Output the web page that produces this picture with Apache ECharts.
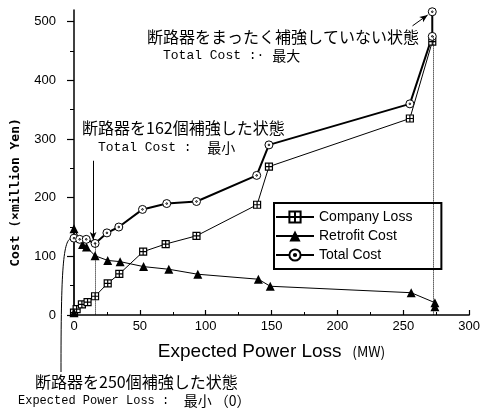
<!DOCTYPE html>
<html><head><meta charset="utf-8">
<script src="https://cdn.jsdelivr.net/npm/echarts@6/dist/echarts.min.js"></script>
<style>html,body{margin:0;padding:0;background:#fff}#c{width:483px;height:412px}</style>
</head><body><div id="c"></div>
<script>
// ---- data ----
const companyX = [0, 2, 6, 10.3, 16, 25.6, 34.4, 52.5, 69.6, 93, 139, 148, 255, 272];
const companyY = [4, 10, 18, 22, 32, 54, 70, 108, 121, 135, 188, 253, 335, 466];
const retrofitX = [0, 0, 6.5, 9.5, 16, 25.6, 35, 52.8, 72, 94, 140, 149, 256, 274, 274];
const retrofitY = [4, 147, 120, 116, 101, 93, 91, 82.5, 78, 69.5, 61, 49, 38, 21, 14];
const totalX = [0, 4.3, 9.3, 16, 25, 34, 52, 70.4, 93, 138.7, 148, 255, 272, 272];
const totalY = [131, 129, 129, 122, 140, 150, 180, 190, 193.5, 238, 290, 360, 475, 517];
const yTicks = [0, 100, 200, 300, 400, 500];
const seriesNames = ['Company Loss', 'Retrofit Cost', 'Total Cost'];
// annotation anchors (data coordinates)
const minIdx = 3;           // Total Cost minimum (162 breakers)
const maxIdx = 13;          // Total Cost maximum (none reinforced)
const arrowMin = [[14.5, 263], [14.5, 128]];
const arrowMax = [[257, 493], [268.5, 511.5]];
const dropMaxX = 273;

const zip = (xs, ys) => xs.map((x, i) => [x, ys[i]]);
const CJK = '"Noto Sans CJK JP"';
const MONO = '"Liberation Mono"';

const chart = echarts.init(document.getElementById('c'), null, {renderer: 'canvas'});
const option = {
  animation: false,
  backgroundColor: '#fff',
  grid: {left: 74, right: 11, top: 10, bottom: 97},
  xAxis: {
    type: 'value', min: 0, max: 300, interval: 50,
    name: 'Expected Power Loss  {u|(MW)}', nameLocation: 'middle', nameGap: 27,
    nameTextStyle: {fontSize: 19, fontFamily: 'Liberation Sans', color: '#000',
      rich: {u: {fontSize: 14, fontFamily: CJK, color: '#000'}}},
    axisLine: {lineStyle: {color: '#000', width: 1.5}},
    axisTick: {inside: true, length: 5, lineStyle: {color: '#000', width: 1.2}},
    minorTick: {show: true, splitNumber: 2, length: 3, lineStyle: {color: '#000'}},
    axisLabel: {margin: 5, fontSize: 13, fontFamily: 'Liberation Sans', color: '#000'},
    splitLine: {show: false}
  },
  yAxis: {
    type: 'value', min: 0, max: 520, interval: 100,
    name: 'Cost (×million Yen)', nameLocation: 'middle', nameRotate: 90, nameGap: 52,
    nameTextStyle: {fontSize: 13, fontWeight: 'bold', fontFamily: 'DejaVu Sans Mono', color: '#000',
      padding: [0, 60, 0, 0]},
    axisLine: {lineStyle: {color: '#000', width: 1.5}},
    axisTick: {inside: false, length: 7, lineStyle: {color: '#000', width: 1.2}, customValues: yTicks},
    minorTick: {show: true, splitNumber: 2, length: 4, lineStyle: {color: '#000'}},
    axisLabel: {margin: 18, fontSize: 13, fontFamily: 'Liberation Sans', color: '#000', customValues: yTicks},
    splitLine: {show: false}
  },
  legend: {
    orient: 'vertical', left: 274, top: 203,
    data: seriesNames,
    padding: [7, 29, 7, 1], itemGap: 5, itemWidth: 38, itemHeight: 14,
    borderColor: '#000', borderWidth: 2, backgroundColor: '#fff',
    textStyle: {fontSize: 14, fontFamily: 'Liberation Sans', color: '#000'}
  },
  series: [
    {
      name: seriesNames[0], type: 'line', data: zip(companyX, companyY),
      symbol: 'path://M0,0H10V10H0Z M5,0V10 M0,5H10', symbolSize: 7,
      lineStyle: {color: '#000', width: 1},
      itemStyle: {color: '#fff', borderColor: '#000', borderWidth: 1.2}
    },
    {
      name: seriesNames[1], type: 'line', data: zip(retrofitX, retrofitY),
      symbol: 'triangle', symbolSize: 9,
      lineStyle: {color: '#000', width: 1},
      itemStyle: {color: '#000'}
    },
    {
      name: seriesNames[2], type: 'line', data: zip(totalX, totalY),
      symbol: 'path://M10,5A5,5,0,1,1,0,5A5,5,0,1,1,10,5Z M6,5A1,1,0,1,1,4,5A1,1,0,1,1,6,5Z', symbolSize: 8,
      lineStyle: {color: '#000', width: 2},
      itemStyle: {color: '#fff', borderColor: '#000', borderWidth: 1},
      markLine: {
        silent: true, label: {show: false}, symbol: ['none', 'none'],
        data: [
          [{coord: [totalX[minIdx], totalY[minIdx]], lineStyle: {type: 'dotted', color: '#000', width: 1}},
           {coord: [totalX[minIdx], 0]}],
          [{coord: [dropMaxX, totalY[maxIdx - 1]], lineStyle: {type: 'dotted', color: '#000', width: 1}},
           {coord: [dropMaxX, 0]}],
          [{coord: arrowMin[0], lineStyle: {type: 'solid', color: '#000', width: 1}},
           {coord: arrowMin[1], symbol: 'arrow', symbolSize: [5, 8]}],
          [{coord: arrowMax[0], lineStyle: {type: 'solid', color: '#000', width: 1}},
           {coord: arrowMax[1], symbol: 'arrow', symbolSize: [5, 8]}]
        ]
      }
    }
  ]
};
chart.setOption(option);

const p0 = chart.convertToPixel({seriesIndex: 2}, [totalX[0], totalY[0]]);
chart.setOption({
  graphic: [
    {type: 'text', style: {x: 147, y: 37, verticalAlign: 'middle', text: '断路器をまったく補強していない状態',
      fontSize: 16, fontFamily: CJK, fill: '#000'}},
    {type: 'text', style: {x: 163, y: 56, verticalAlign: 'middle', text: '{m|Total Cost :· }{c|最大}',
      rich: {m: {fontSize: 13, fontFamily: MONO, fill: '#000'}, c: {fontSize: 14, fontFamily: CJK, fill: '#000'}}}},
    {type: 'text', style: {x: 82, y: 128, verticalAlign: 'middle', text: '断路器を162個補強した状態',
      fontSize: 16, fontFamily: CJK, fill: '#000'}},
    {type: 'text', style: {x: 98, y: 148, verticalAlign: 'middle', text: '{m|Total Cost :  }{c|最小}',
      rich: {m: {fontSize: 13, fontFamily: MONO, fill: '#000'}, c: {fontSize: 14, fontFamily: CJK, fill: '#000'}}}},
    {type: 'text', style: {x: 35, y: 382, verticalAlign: 'middle', text: '断路器を250個補強した状態',
      fontSize: 16, fontFamily: CJK, fill: '#000'}},
    {type: 'text', style: {x: 18, y: 401, verticalAlign: 'middle', text: '{m|Expected Power Loss :  }{c|最小 （0）}',
      rich: {m: {fontSize: 12, fontFamily: MONO, fill: '#000'}, c: {fontSize: 14, fontFamily: CJK, fill: '#000'}}}},
    {type: 'bezierCurve', silent: true,
      shape: {x1: 61, y1: 372, cpx1: 61, cpy1: 270, cpx2: 63, cpy2: p0[1], x2: p0[0] - 2, y2: p0[1]},
      style: {stroke: '#000', lineWidth: 1, fill: null}}
  ]
});
</script></body></html>
